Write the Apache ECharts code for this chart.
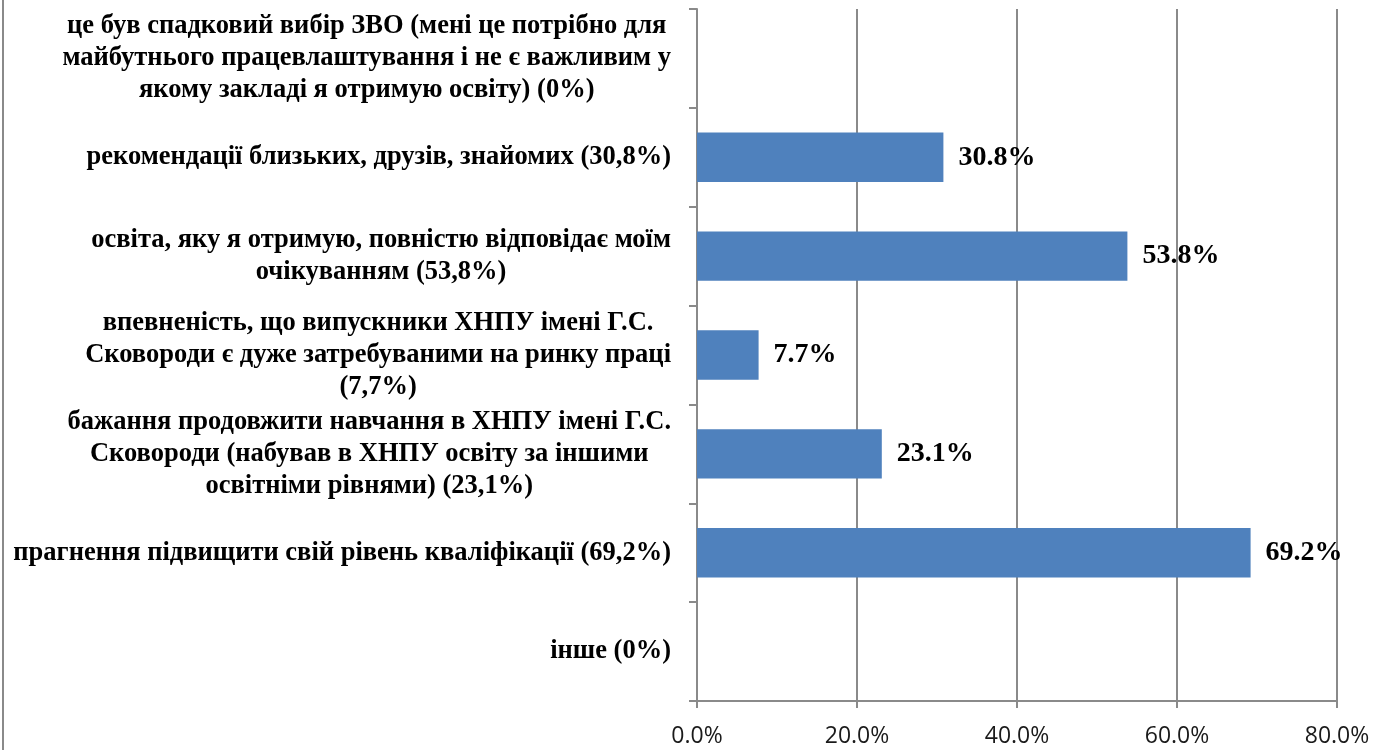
<!DOCTYPE html>
<html>
<head>
<meta charset="utf-8">
<script src="https://cdn.jsdelivr.net/npm/echarts@6/dist/echarts.min.js"></script>
<style>
html,body{margin:0;padding:0;background:#fff;}
#chart{width:1387px;height:750px;}
</style>
</head>
<body>
<div id="chart"></div>
<script>
// Categories listed top to bottom
const categories = [
  "це був спадковий вибір ЗВО (мені це потрібно для\nмайбутнього працевлаштування і не є важливим у\nякому закладі я отримую освіту) (0%)",
  "рекомендації близьких, друзів, знайомих (30,8%)",
  "освіта, яку я отримую, повністю відповідає моїм\nочікуванням (53,8%)",
  "впевненість, що випускники ХНПУ імені Г.С.\nСковороди є дуже затребуваними на ринку праці\n(7,7%)",
  "бажання продовжити навчання в ХНПУ імені Г.С.\nСковороди (набував в ХНПУ освіту за іншими\nосвітніми рівнями) (23,1%)",
  "прагнення підвищити свій рівень кваліфікації (69,2%)",
  "інше (0%)"
];
const values = [0, 30.8, 53.8, 7.7, 23.1, 69.2, 0];
const axisMin = 0, axisMax = 80, axisStep = 20;

const serif = '"Liberation Serif", "Times New Roman", serif';
const catFont = 26.5;
const chart = echarts.init(document.getElementById('chart'));
chart.setOption({
  animation: false,
  backgroundColor: '#ffffff',
  graphic: [{
    type: 'line', shape: {x1: 3, y1: 0, x2: 3, y2: 750},
    style: {stroke: '#8a8a8a', lineWidth: 2}
  }],
  grid: {left: 697, right: 50, top: 9, bottom: 49},
  xAxis: {
    type: 'value', min: axisMin, max: axisMax, interval: axisStep,
    axisLine: {show: true, lineStyle: {color: '#8a8a8a', width: 2}},
    axisTick: {show: true, length: 7, lineStyle: {color: '#8a8a8a', width: 2}},
    splitLine: {show: true, lineStyle: {color: '#8a8a8a', width: 2}},
    axisLabel: {
      margin: 24, color: '#1a1a1a', fontSize: 23, fontFamily: '"Open Sans", Lato, sans-serif',
      formatter: v => v.toFixed(1) + '%'
    }
  },
  yAxis: {
    type: 'category', inverse: true, data: categories,
    axisLine: {show: true, lineStyle: {color: '#8a8a8a', width: 2}},
    axisTick: {show: true, length: 8, lineStyle: {color: '#8a8a8a', width: 2}},
    splitLine: {show: false},
    axisLabel: {
      margin: 26, color: '#000', fontFamily: serif, fontWeight: 'bold', fontSize: catFont,
      lineHeight: 32, align: 'right',
      formatter: function (v) {
        const lines = v.split('\n');
        if (lines.length === 1) return v;
        return lines.map(l => '{c|' + l + '}').join('\n');
      },
      rich: {
        c: {align: 'center', fontFamily: serif, fontWeight: 'bold', fontSize: catFont, lineHeight: 32, color: '#000'}
      }
    }
  },
  series: [{
    type: 'bar', data: values, barCategoryGap: '50%',
    itemStyle: {color: '#4f81bd'},
    label: {
      show: true, position: 'right', distance: 15,
      fontFamily: serif, fontWeight: 'bold', fontSize: 28, color: '#000',
      formatter: p => p.value > 0 ? p.value.toFixed(1) + '%' : ''
    }
  }]
});
</script>
</body>
</html>
